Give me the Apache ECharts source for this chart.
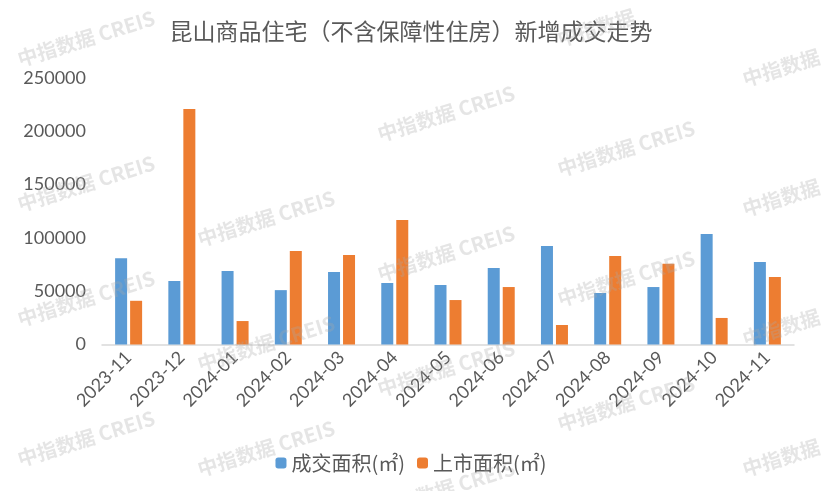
<!DOCTYPE html>
<html>
<head>
<meta charset="utf-8">
<script src="https://cdn.jsdelivr.net/npm/echarts@6/dist/echarts.min.js"></script>
<style>html,body{margin:0;padding:0;background:#fff}#c{width:822px;height:491px}</style>
</head>
<body>
<div id="c"></div>
<script>
const categories = ['2023-11','2023-12','2024-01','2024-02','2024-03','2024-04','2024-05','2024-06','2024-07','2024-08','2024-09','2024-10','2024-11'];
const dealArea = [81000, 59600, 69000, 51000, 68000, 57700, 55800, 71800, 92400, 48300, 53900, 103700, 77400];
const listedArea = [41000, 220900, 22000, 87700, 84000, 116800, 41700, 53900, 18300, 83000, 75800, 24900, 63300];
const yTicks = [0, 50000, 100000, 150000, 200000, 250000];

const chart = echarts.init(document.getElementById('c'), null, {renderer: 'canvas'});
const wmPos = [[15,50],[375,125],[555,160],[15,195],[195,230],[375,265],[555,290],[15,310],[195,355],[375,380],[15,450],[195,460],[555,415],[375,500]];
const wmShort = [[740,70],[740,200],[740,330],[740,460],[555,30]];
const graphics = [];
wmPos.forEach(p => graphics.push({type:'text', x:p[0], y:p[1], rotation: 0.3, z: 100,
  style:{text:'中指数据 CREIS', fill:'rgba(170,170,170,0.3)', font:'bold 20px "Noto Sans CJK SC", sans-serif'}}));
wmShort.forEach(p => graphics.push({type:'text', x:p[0], y:p[1], rotation: 0.3, z: 100,
  style:{text:'中指数据', fill:'rgba(170,170,170,0.3)', font:'bold 20px "Noto Sans CJK SC", sans-serif'}}));

chart.setOption({
  animation: false,
  backgroundColor: '#fff',
  title: {
    text: '昆山商品住宅（不含保障性住房）新增成交走势',
    left: 'center', top: 15,
    textStyle: {fontSize: 23, fontWeight: 'normal', color: '#595959', fontFamily: '"Noto Sans CJK SC", sans-serif'}
  },
  legend: {
    bottom: 13, left: 'center', itemWidth: 11, itemHeight: 11, itemGap: 12,
    textStyle: {fontSize: 20, color: '#595959', fontFamily: '"Noto Sans CJK SC", sans-serif'},
    data: ['成交面积(㎡)', '上市面积(㎡)']
  },
  grid: {left: 102, right: 28, top: 78, bottom: 146.5},
  xAxis: {
    type: 'category', data: categories,
    axisLine: {lineStyle: {color: '#d9d9d9', width: 1.5}},
    axisTick: {show: false},
    axisLabel: {rotate: 45, fontSize: 18, color: '#595959', margin: 10, fontFamily: 'Lato, sans-serif'}
  },
  yAxis: {
    type: 'value', min: 0, max: 250000, interval: 50000,
    splitLine: {show: false},
    axisLine: {show: false}, axisTick: {show: false},
    axisLabel: {fontSize: 18, color: '#595959', margin: 16, fontFamily: 'Lato, sans-serif',
      formatter: v => yTicks.includes(v) ? String(v) : ''}
  },
  series: [
    {name: '成交面积(㎡)', type: 'bar', data: dealArea, barWidth: 12, barGap: '25%', itemStyle: {color: '#5b9bd5'}},
    {name: '上市面积(㎡)', type: 'bar', data: listedArea, barWidth: 12, itemStyle: {color: '#ed7d31'}}
  ],
  graphic: graphics
});
</script>
</body>
</html>
